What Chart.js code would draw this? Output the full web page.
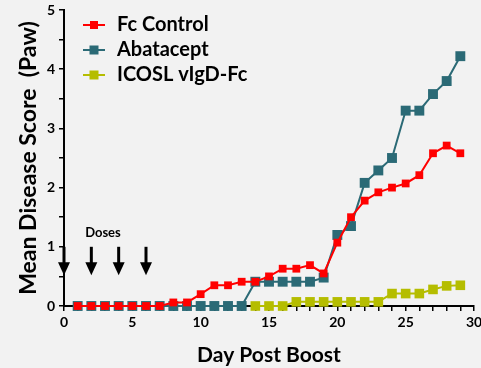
<!DOCTYPE html>
<html>
<head>
<meta charset="utf-8">
<title>Mean Disease Score</title>
<script src="https://cdn.jsdelivr.net/npm/chart.js@4/dist/chart.umd.min.js"></script>
<style>
    html, body { margin: 0; padding: 0; background: #f2f2f2; overflow: hidden; }
    #wrap { width: 481px; height: 368px; }
</style>
</head>
<body>
<div id="wrap"><canvas id="chart" width="481" height="368"></canvas></div>
<script>
// ============================================================
// DATA
// ============================================================
const days = [1, 2, 3, 4, 5, 6, 7, 8, 9, 10, 11, 12, 13, 14, 15, 16, 17, 18, 19, 20, 21, 22, 23, 24, 25, 26, 27, 28, 29];
const fcControl = [0, 0, 0, 0, 0, 0, 0, 0.06, 0.06, 0.2, 0.35, 0.35, 0.41, 0.41, 0.5, 0.63, 0.63, 0.69, 0.55, 1.07, 1.5, 1.78, 1.92, 2.0, 2.07, 2.21, 2.58, 2.71, 2.58];
const abatacept = [0, 0, 0, 0, 0, 0, 0, 0, 0, 0, 0, 0, 0, 0.41, 0.41, 0.41, 0.41, 0.41, 0.48, 1.2, 1.35, 2.08, 2.29, 2.5, 3.3, 3.3, 3.58, 3.8, 4.22];
const icoslDays = [14, 15, 16, 17, 18, 19, 20, 21, 22, 23, 24, 25, 26, 27, 28, 29];
const icosl = [0, 0, 0, 0.07, 0.07, 0.07, 0.07, 0.07, 0.07, 0.07, 0.21, 0.21, 0.21, 0.28, 0.34, 0.35];

const seriesNames = ['Fc Control', 'Abatacept', 'ICOSL vIgD-Fc'];
const doseDays = [0, 2, 4, 6];
const doseLabel = 'Doses';

const xTitle = 'Day Post Boost';
const yTitle = 'Mean Disease Score  (Paw)';

// ============================================================
// STYLE
// ============================================================
const RED = '#ff0000';
const TEAL = '#2b6a76';
const OLIVE = '#b5bd00';
const FONT = 'Lato';

Chart.defaults.font.family = FONT;
Chart.defaults.font.weight = 'bold';
Chart.defaults.color = '#000';

function toPoints(xs, ys) {
    return xs.map(function (d, i) { return { x: d, y: ys[i] }; });
}

// line + square icon for the legend
function legendIcon(color, side) {
    var c = document.createElement('canvas');
    c.width = 38;
    c.height = 12;
    var g = c.getContext('2d');
    g.strokeStyle = color;
    g.lineWidth = 2;
    g.beginPath();
    g.moveTo(14, 6);
    g.lineTo(36, 6);
    g.stroke();
    g.fillStyle = color;
    g.fillRect(25 - side / 2, 6 - side / 2, side, side);
    return c;
}
const legendIcons = [legendIcon(RED, 8), legendIcon(TEAL, 9), legendIcon(OLIVE, 9)];

// dose arrows + label, positioned through the scales
const doseArrows = {
    id: 'doseArrows',
    afterDraw: function (chart) {
        var ctx = chart.ctx;
        var x = chart.scales.x, y = chart.scales.y;
        var top = y.getPixelForValue(1.0);
        var tip = y.getPixelForValue(0.52);
        ctx.save();
        ctx.fillStyle = '#000';
        ctx.strokeStyle = '#000';
        doseDays.forEach(function (d) {
            var px = x.getPixelForValue(d);
            ctx.lineWidth = 3;
            ctx.beginPath();
            ctx.moveTo(px, top);
            ctx.lineTo(px, tip - 10);
            ctx.stroke();
            ctx.beginPath();
            ctx.moveTo(px - 6, tip - 13);
            ctx.lineTo(px + 6, tip - 13);
            ctx.lineTo(px, tip);
            ctx.closePath();
            ctx.fill();
        });
        ctx.font = 'bold 13px ' + FONT;
        ctx.textAlign = 'center';
        ctx.textBaseline = 'middle';
        ctx.fillText(doseLabel, x.getPixelForValue(2.85), y.getPixelForValue(1.24));
        ctx.restore();
    }
};

new Chart(document.getElementById('chart'), {
    type: 'line',
    data: {
        datasets: [
            {
                label: seriesNames[0],
                data: toPoints(days, fcControl),
                borderColor: RED,
                backgroundColor: RED,
                borderWidth: 2,
                pointStyle: 'rect',
                pointRadius: 5.5,
                pointBorderWidth: 0,
                clip: false
            },
            {
                label: seriesNames[1],
                data: toPoints(days, abatacept),
                borderColor: TEAL,
                backgroundColor: TEAL,
                borderWidth: 2,
                pointStyle: 'rect',
                pointRadius: 7,
                pointBorderWidth: 0,
                clip: false
            },
            {
                label: seriesNames[2],
                data: toPoints(icoslDays, icosl),
                borderColor: OLIVE,
                backgroundColor: OLIVE,
                borderWidth: 2,
                pointStyle: 'rect',
                pointRadius: 6.8,
                pointBorderWidth: 0,
                clip: false
            }
        ]
    },
    options: {
        responsive: false,
        animation: false,
        layout: { padding: { top: 0, right: 0, bottom: 0, left: 0 } },
        plugins: {
            tooltip: { enabled: false },
            legend: {
                position: 'chartArea',
                align: 'start',
                // blank title only pushes the entries down a little
                title: { display: true, text: ' ', padding: 0, font: { size: 8, lineHeight: 1.25 } },
                labels: {
                    usePointStyle: true,
                    pointStyleWidth: 38,
                    padding: 5,
                    color: '#000',
                    font: { size: 20, weight: 'bold', family: FONT },
                    generateLabels: function (chart) {
                        var items = Chart.defaults.plugins.legend.labels.generateLabels(chart);
                        items.forEach(function (it, i) { it.pointStyle = legendIcons[i]; });
                        return items;
                    }
                }
            }
        },
        scales: {
            x: {
                type: 'linear',
                min: 0,
                max: 30,
                border: { color: '#000', width: 2 },
                grid: { drawOnChartArea: false, drawTicks: true, tickLength: 5, color: '#000', lineWidth: 1.5 },
                ticks: {
                    stepSize: 1,
                    autoSkip: false,
                    maxRotation: 0,
                    padding: 3,
                    font: { size: 14, weight: 'bold' },
                    callback: function (v) { return v % 5 === 0 ? v : ''; }
                },
                title: {
                    display: true,
                    text: xTitle,
                    font: { size: 21, weight: 'bold' },
                    padding: { top: 0, bottom: 0 }
                },
                afterFit: function (s) {
                    s.height = 62;
                    s.paddingRight = 0;
                    s.paddingLeft = 0;
                }
            },
            y: {
                min: 0,
                max: 5,
                border: { color: '#000', width: 2 },
                grid: { drawOnChartArea: false, drawTicks: true, tickLength: 5, color: '#000', lineWidth: 1.5 },
                ticks: {
                    stepSize: 0.5,
                    padding: 4,
                    font: { size: 14, weight: 'bold' },
                    callback: function (v) { return Number.isInteger(v) ? v : ''; }
                },
                title: {
                    display: true,
                    text: yTitle,
                    font: { size: 23, weight: 'bold' },
                    padding: { top: 15, bottom: 0 }
                },
                afterFit: function (s) {
                    s.width = 64;
                    s.paddingTop = 10;
                    s.paddingBottom = 0;
                }
            }
        }
    },
    plugins: [doseArrows]
});
</script>
</body>
</html>
